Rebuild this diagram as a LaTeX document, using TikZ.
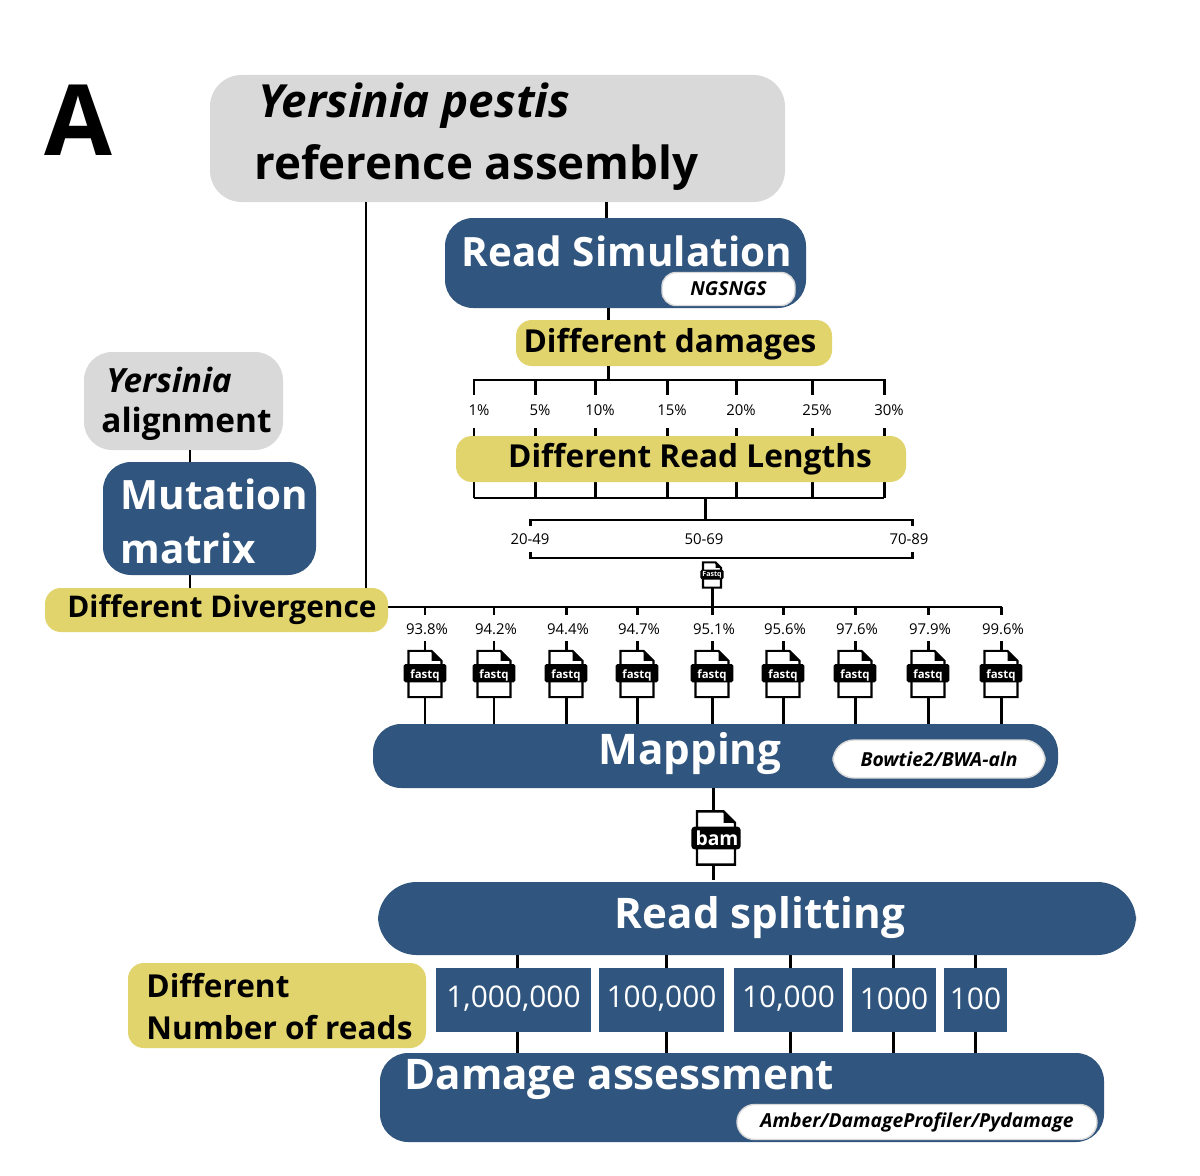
\documentclass[tikz,border=0pt]{standalone}
\usepackage{fontspec}
\setmainfont{Open Sans}
\definecolor{bl}{HTML}{30557E}
\definecolor{gr}{HTML}{D9D9D9}
\definecolor{ye}{HTML}{E2D46C}
\newcommand{\fs}[1]{\fontsize{#1}{#1}\selectfont}
\begin{document}
\begin{tikzpicture}[x=0.02cm,y=-0.02cm,
  pill/.style={rounded corners=8pt,fill=white,draw=gr,line width=0.8pt,font=\fs{11}\bfseries\itshape},
  lab/.style={font=\fs{8.5},inner sep=0},
  ln/.style={line width=1.7pt,black},
  t/.style={text=white,font=\fs{24}\bfseries,inner sep=0},
  doc/.style={fill=white,line width=1.2pt}]
\useasboundingbox (0,0) rectangle (1200,1176);
\fill[white] (0,0) rectangle (1200,1176);
\node[font=\fs{56}\bfseries] (A) at (78,120) {A};
% gray reference
\fill[gr,rounded corners=18pt] (210,75) rectangle (785,202);
\coordinate (refL) at (366,202); \coordinate (refR) at (606,202);
\node[font=\fs{26}\bfseries\itshape,anchor=west,inner sep=0] (yp) at (258,106) {Yersinia pestis};
\node[font=\fs{26}\bfseries,anchor=west,inner sep=0] (ra) at (254,168) {reference assembly};
% read simulation
\fill[bl,rounded corners=16pt] (445,218) rectangle (806,308);
\coordinate (rs) at (606,218);
\node[t,font=\fs{23}\bfseries] (rst) at (627,251) {Read Simulation};
\node[pill,minimum width=133*0.02cm,minimum height=33*0.02cm] (ngs) at (728.5,289) {NGSNGS};
\draw[ln] (refR) -- (rs);
% damages
\fill[ye,rounded corners=9pt] (516,320) rectangle (832,366);
\node[font=\fs{18}\bfseries,inner sep=0] (dd) at (670,344) {Different damages};
\draw[ln] (608,308) -- (608,320);
\draw[ln] (608,366) -- (608,380);
\draw[ln] (474,395) -- (474,380) -- (884,380) -- (884,395);
\foreach \x/\l in {474/1\%,535/5\%,595/10\%,667/15\%,736/20\%,812/25\%,884/30\%}{
  \draw[ln] (\x,380) -- (\x,395);
  \node[lab] at (\x+5,410) {\l};
  \draw[ln] (\x,428) -- (\x,436);
  \draw[ln] (\x,482) -- (\x,498);}
\draw[ln] (474,498) -- (884,498);
% read lengths
\fill[ye,rounded corners=9pt] (456,436) rectangle (906,482);
\node[font=\fs{18}\bfseries,inner sep=0] (drl) at (690,459) {Different Read Lengths};
\draw[ln] (705,498) -- (705,520);
\draw[ln] (530,526) -- (530,520) -- (912,520) -- (912,526);
\node[lab] at (530,539) {20-49};
\node[lab] at (704,539) {50-69};
\node[lab] at (909,539) {70-89};
\draw[ln] (530,552) -- (530,558) -- (912,558) -- (912,552);
\begin{scope}[shift={(712,575)},scale=0.9]
   \draw[doc] (-10,-14) -- (4,-14) -- (10,-8) -- (10,14) -- (-10,14) -- cycle;
   \fill[black] (4,-14) -- (10,-8) -- (4,-8) -- cycle;
   \fill[black,rounded corners=1pt] (-13,-6) rectangle (13,5);
\end{scope}
\node[text=white,font=\fs{4}\bfseries,inner sep=0] (fq0) at (712,575) {Fastq};
\draw[ln] (712,588) -- (712,607);
% divergence
\draw[ln] (388,607) -- (1002,607);
\foreach \x/\l in {425/93.8\%,494/94.2\%,566/94.4\%,637/94.7\%,712/95.1\%,783/95.6\%,855/97.6\%,928/97.9\%,1001/99.6\%}{
  \draw[ln] (\x,607) -- (\x,615);
  \node[lab] at (\x+2,629) {\l};
  \draw[ln] (\x,641) -- (\x,652);
  \begin{scope}[shift={(\x,674)},scale=1.65]
   \draw[doc] (-10,-14) -- (4,-14) -- (10,-8) -- (10,14) -- (-10,14) -- cycle;
   \fill[black] (4,-14) -- (10,-8) -- (4,-8) -- cycle;
   \fill[black,rounded corners=1pt] (-13,-6) rectangle (13,5);
  \end{scope}
  \node[text=white,font=\fs{6.5}\bfseries,inner sep=0] at (\x,675) {fastq};
  \draw[ln] (\x,697) -- (\x,724);}
\fill[ye,rounded corners=9pt] (45,588) rectangle (388,632);
\node[font=\fs{17}\bfseries,inner sep=0] (ddv) at (222,610) {Different Divergence};
\draw[ln] (refL) -- (366,588);
% yersinia alignment / mutation matrix
\fill[gr,rounded corners=16pt] (84,352) rectangle (283,450);
\node[font=\fs{19}\bfseries\itshape,anchor=west,inner sep=0] (ya1) at (106,380) {Yersinia};
\node[font=\fs{19}\bfseries,anchor=west,inner sep=0] (ya2) at (101,424) {alignment};
\fill[bl,rounded corners=16pt] (103,462) rectangle (316,575);
\node[t,font=\fs{23}\bfseries,anchor=west] (mm1) at (120,494) {Mutation};
\node[t,font=\fs{23}\bfseries,anchor=west] (mm2) at (120,548) {matrix};
\draw[ln] (190,450) -- (190,462);
\draw[ln] (190,575) -- (190,588);
% mapping
\fill[bl,rounded corners=16pt] (373,724) rectangle (1058,788);
\node[t] (map) at (690,754) {Mapping};
\node[pill,rounded corners=12pt,minimum width=212*0.02cm,minimum height=38*0.02cm] (bw) at (939,759) {Bowtie2/BWA-aln};
\draw[ln] (713,788) -- (713,880);
\begin{scope}[shift={(716,838)},scale=1.9]
   \draw[doc,line width=1.4pt] (-10,-14) -- (4,-14) -- (10,-8) -- (10,14) -- (-10,14) -- cycle;
   \fill[black] (4,-14) -- (10,-8) -- (4,-8) -- cycle;
   \fill[black,rounded corners=2pt] (-13,-6) rectangle (13,6);
\end{scope}
\node[text=white,font=\fs{11}\bfseries,inner sep=0] (bam) at (717,838) {bam};
% read splitting
\fill[bl,rounded corners=22pt] (378,882) rectangle (1136,955);
\node[t] (rsp) at (760,918) {Read splitting};
\foreach \a/\b/\c/\l in {436/591/517/{1,000,000},599/724/666/{100,000},734/843/790/{10,000},852/936/893/1000,944/1007/975/100}{
  \fill[bl] (\a,968) rectangle (\b,1032);
  \node[text=white,font=\fs{17},inner sep=0] at ({(\a+\b)/2},999) {\l};
  \draw[ln] (\c,955) -- (\c,968);
  \draw[ln] (\c,1032) -- (\c,1053);}
\fill[ye,rounded corners=9pt] (128,963) rectangle (426,1048);
\node[font=\fs{18}\bfseries,anchor=west,inner sep=0] (dn1) at (146,986) {Different};
\node[font=\fs{18}\bfseries,anchor=west,inner sep=0] (dn2) at (146,1028) {Number of reads};
% damage assessment
\fill[bl,rounded corners=16pt] (380,1053) rectangle (1104,1142);
\node[t,anchor=west] (da) at (404,1080) {Damage assessment};
\node[pill,rounded corners=10pt,minimum width=360*0.02cm,minimum height=35*0.02cm] (adp) at (917,1122) {Amber/DamageProfiler/Pydamage};
\end{tikzpicture}
\end{document}
